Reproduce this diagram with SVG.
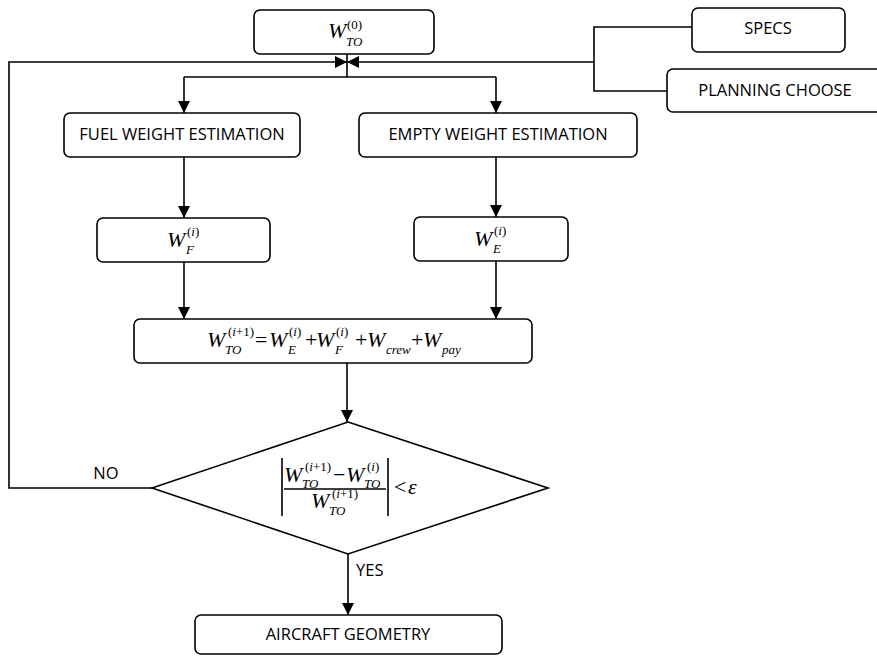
<svg xmlns="http://www.w3.org/2000/svg" width="877" height="656" viewBox="0 0 877 656">
<defs>
<style>
.box{fill:#fff;stroke:#000;stroke-width:1.6}
.ln{fill:none;stroke:#000;stroke-width:1.6}
.lbl{font-family:"Open Sans","Liberation Sans",sans-serif;font-size:16.5px;fill:#000}
.c{text-anchor:middle}
.m{font-family:"Liberation Serif","DejaVu Serif",serif;font-style:italic;font-size:22px;fill:#000}
.s{font-size:13px}
.u{font-style:normal}
</style>
<marker id="arr" viewBox="0 0 10 10" refX="10" refY="5" markerUnits="userSpaceOnUse" markerWidth="12" markerHeight="12" orient="auto">
<path d="M0,0 L10,5 L0,10 z" fill="#000"/>
</marker>
</defs>
<rect width="877" height="656" fill="#fff"/>

<g id="connectors">
<polyline class="ln" points="152,488 9,488 9,62 347,62" marker-end="url(#arr)"/>
<polyline class="ln" points="594,62 347,62" marker-end="url(#arr)"/>
<polyline class="ln" points="692,27 594,27 594,91 667,91"/>
<line class="ln" x1="347" y1="54" x2="347" y2="77"/>
<line class="ln" x1="184" y1="77" x2="496" y2="77"/>
<line class="ln" x1="184" y1="77" x2="184" y2="113" marker-end="url(#arr)"/>
<line class="ln" x1="496" y1="77" x2="496" y2="113" marker-end="url(#arr)"/>
<line class="ln" x1="184" y1="157" x2="184" y2="218" marker-end="url(#arr)"/>
<line class="ln" x1="496" y1="157" x2="496" y2="217" marker-end="url(#arr)"/>
<line class="ln" x1="184" y1="262" x2="184" y2="319" marker-end="url(#arr)"/>
<line class="ln" x1="496" y1="261" x2="496" y2="319" marker-end="url(#arr)"/>
<line class="ln" x1="347" y1="363" x2="347" y2="422" marker-end="url(#arr)"/>
<line class="ln" x1="348" y1="554" x2="348" y2="615" marker-end="url(#arr)"/>
<text class="lbl" x="106" y="479" text-anchor="middle" font-size="15">NO</text>
<text class="lbl" x="356" y="576" font-size="15">YES</text>
</g>

<g id="wto0">
<rect class="box" x="254" y="10" width="180" height="44" rx="6"/>
<text class="m" x="328" y="38">W</text>
<text class="m s u" x="347" y="29">(0)</text>
<text class="m s" x="346" y="46">TO</text>
</g>

<g id="specs">
<rect class="box" x="692" y="8" width="153" height="44" rx="6"/>
<text class="lbl c" x="768" y="34">SPECS</text>
</g>

<g id="planning">
<rect class="box" x="667" y="69" width="222" height="43" rx="6"/>
<text class="lbl c" x="775" y="96">PLANNING CHOOSE</text>
</g>

<g id="fuel">
<rect class="box" x="64" y="113" width="236" height="44" rx="6"/>
<text class="lbl c" x="182" y="140">FUEL WEIGHT ESTIMATION</text>
</g>

<g id="empty">
<rect class="box" x="359" y="113" width="278" height="44" rx="6"/>
<text class="lbl c" x="498" y="140">EMPTY WEIGHT ESTIMATION</text>
</g>

<g id="wf">
<rect class="box" x="97" y="218" width="173" height="44" rx="6"/>
<text class="m" x="167" y="247">W</text>
<text class="m s" x="187" y="236"><tspan class="u">(</tspan>i<tspan class="u">)</tspan></text>
<text class="m s" x="186" y="254">F</text>
</g>

<g id="we">
<rect class="box" x="414" y="217" width="154" height="44" rx="6"/>
<text class="m" x="474" y="246">W</text>
<text class="m s" x="494" y="235"><tspan class="u">(</tspan>i<tspan class="u">)</tspan></text>
<text class="m s" x="493" y="253">E</text>
</g>

<g id="sum">
<rect class="box" x="134" y="319" width="398" height="44" rx="6"/>
<text class="m" x="207" y="347">W</text>
<text class="m s" x="228" y="336"><tspan class="u">(</tspan>i<tspan class="u">+1)</tspan></text>
<text class="m s" x="225" y="354">TO</text>
<text class="m u" x="255" y="347">=</text>
<text class="m" x="269" y="347">W</text>
<text class="m s" x="289" y="336"><tspan class="u">(</tspan>i<tspan class="u">)</tspan></text>
<text class="m s" x="288" y="354">E</text>
<text class="m u" x="305" y="347">+</text>
<text class="m" x="316" y="347">W</text>
<text class="m s" x="336" y="336"><tspan class="u">(</tspan>i<tspan class="u">)</tspan></text>
<text class="m s" x="335" y="354">F</text>
<text class="m u" x="355" y="347">+</text>
<text class="m" x="367" y="347">W</text>
<text class="m s" x="386" y="354">crew</text>
<text class="m u" x="411" y="347">+</text>
<text class="m" x="423" y="347">W</text>
<text class="m s" x="442" y="354">pay</text>
</g>

<g id="decision">
<polygon class="box" points="348,422 548,488 348,554 152,488"/>
<line class="ln" x1="282" y1="458" x2="282" y2="516"/>
<line class="ln" x1="388" y1="458" x2="388" y2="516"/>
<line class="ln" x1="284" y1="489" x2="386" y2="489"/>
<text class="m" x="284" y="482">W</text>
<text class="m s" x="305" y="471"><tspan class="u">(</tspan>i<tspan class="u">+1)</tspan></text>
<text class="m s" x="302" y="488">TO</text>
<text class="m u" x="333" y="482">−</text>
<text class="m" x="346" y="482">W</text>
<text class="m s" x="367" y="471"><tspan class="u">(</tspan>i<tspan class="u">)</tspan></text>
<text class="m s" x="364" y="488">TO</text>
<text class="m" x="311" y="508">W</text>
<text class="m s" x="332" y="498"><tspan class="u">(</tspan>i<tspan class="u">+1)</tspan></text>
<text class="m s" x="329" y="515">TO</text>
<text class="m u" x="394" y="494">&lt;</text>
<text class="m" x="408" y="494">ε</text>
</g>

<g id="geometry">
<rect class="box" x="195" y="615" width="307" height="39" rx="6"/>
<text class="lbl c" x="348" y="640">AIRCRAFT GEOMETRY</text>
</g>
</svg>
